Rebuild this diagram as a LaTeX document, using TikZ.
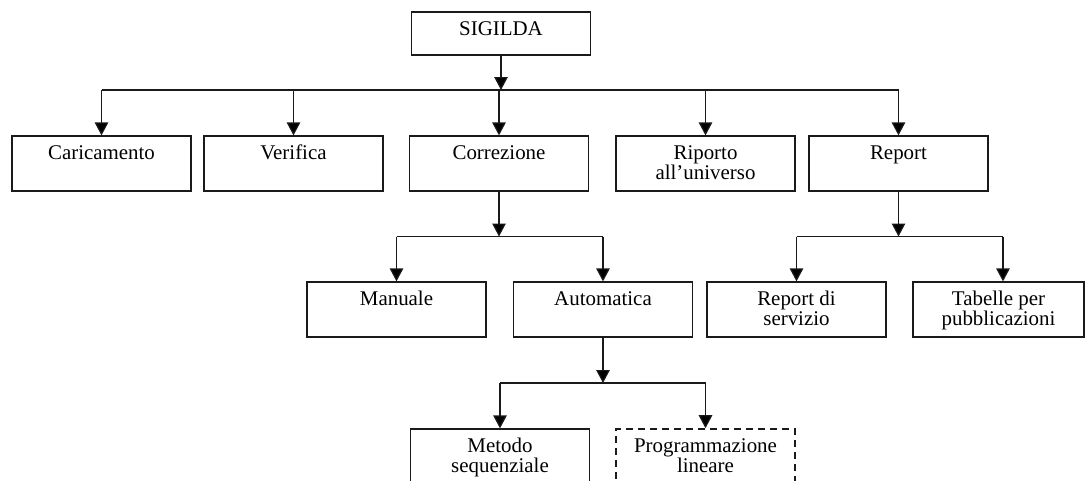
\documentclass[tikz,border=0pt]{standalone}
\usepackage{fontspec}
\setmainfont{Liberation Serif}
\usepackage{tikz}
\usetikzlibrary{arrows.meta,positioning,calc}
\definecolor{sline}{HTML}{1A1A1A}
\newcommand{\btxt}[2][1.1cm]{\parbox[c][#1][t]{3.3cm}{\centering\rule{0pt}{0.47cm}#2}}
\tikzset{
  box/.style={draw=sline,fill=white,line width=0.7pt,inner sep=0pt,minimum width=3.58cm,minimum height=1.1cm,font=\fontsize{11.9pt}{11.4pt}\selectfont},
  dbox/.style={box,dash pattern=on 0.15cm off 0.09cm,line width=0.9pt},
  arr/.style={-{Triangle[length=0.26cm,width=0.27cm,fill=black]},line width=0.7pt,draw=sline},
  bus/.style={line width=0.7pt,draw=sline},
}
\begin{document}
\begin{tikzpicture}
  \useasboundingbox (0,0) rectangle (21.7,9.6);
  \clip (0,0) rectangle (21.7,9.6);
  % radice
  \node[box,minimum height=0.86cm] (sig) at (10.02,8.93) {\btxt[0.86cm]{SIGILDA}};
  % primo livello
  \node[box] (car) at (2.03,6.33) {\btxt{Caricamento}};
  \node[box] (ver) at (5.87,6.33) {\btxt{Verifica}};
  \node[box] (cor) at (9.98,6.33) {\btxt{Correzione}};
  \node[box] (rip) at (14.11,6.33) {\btxt{Riporto\\all'universo}};
  \node[box] (rep) at (17.97,6.33) {\btxt{Report}};
  \coordinate (b1) at (0,7.8);
  \draw[arr] (sig.south) -- (sig.south |- b1);
  \draw[bus] (car.north |- b1) -- (rep.north |- b1);
  \foreach \n in {car,ver,cor,rip,rep} { \draw[arr] (\n.north |- b1) -- (\n.north); }
  % correzione
  \node[box] (man) at (7.93,3.41) {\btxt{Manuale}};
  \node[box] (aut) at (12.06,3.41) {\btxt{Automatica}};
  \coordinate (b2) at (0,4.87);
  \draw[arr] (cor.south) -- (cor.south |- b2);
  \draw[bus] (man.north |- b2) -- (aut.north |- b2);
  \draw[arr] (man.north |- b2) -- (man.north);
  \draw[arr] (aut.north |- b2) -- (aut.north);
  % report
  \node[box] (rds) at (15.93,3.41) {\btxt{Report di\\servizio}};
  \node[box,minimum width=3.42cm] (tab) at (19.97,3.41) {\btxt{Tabelle per\\pubblicazioni}};
  \coordinate (tn) at ($(tab.north)+(0.09,0)$);
  \draw[arr] (rep.south) -- (rep.south |- b2);
  \draw[bus] (rds.north |- b2) -- (tn |- b2);
  \draw[arr] (rds.north |- b2) -- (rds.north);
  \draw[arr] (tn |- b2) -- (tn);
  % automatica
  \node[box] (met) at (10.0,0.47) {\btxt{Metodo\\sequenziale}};
  \node[dbox] (pro) at (14.11,0.47) {\btxt{Programmazione\\lineare}};
  \coordinate (b3) at (0,1.94);
  \draw[arr] (aut.south) -- (aut.south |- b3);
  \draw[bus] (met.north |- b3) -- (pro.north |- b3);
  \draw[arr] (met.north |- b3) -- (met.north);
  \draw[arr] (pro.north |- b3) -- (pro.north);
\end{tikzpicture}
\end{document}
